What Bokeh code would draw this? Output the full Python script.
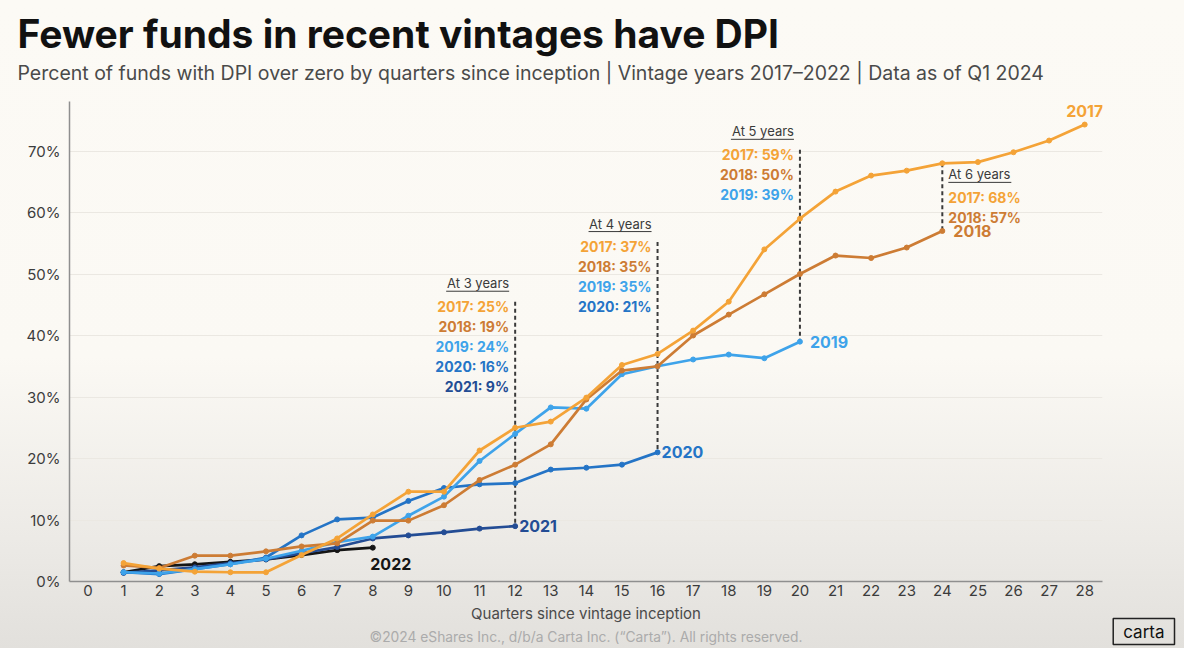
from bokeh.plotting import figure
from bokeh.models import ColumnDataSource, Title, FixedTicker, PrintfTickFormatter
from bokeh.core.properties import value
from bokeh.embed import file_html
from bokeh.resources import INLINE

# % of funds with DPI > 0, by quarters since inception
v2017 = [3.0, 2.1, 1.6, 1.5, 1.5, 4.3, 7.0, 10.9, 14.6, 14.6, 21.3, 25.0, 26.0, 29.9,
         35.2, 37.0, 40.8, 45.5, 54.0, 59.0, 63.4, 66.0, 66.8, 68.0, 68.2, 69.8, 71.7, 74.3]
v2018 = [2.6, 2.2, 4.2, 4.2, 4.9, 5.7, 6.2, 9.9, 9.9, 12.4, 16.5, 19.0, 22.3, 29.6,
         34.3, 35.0, 40.0, 43.4, 46.7, 50.0, 53.0, 52.6, 54.3, 57.0]
v2019 = [1.5, 1.3, 2.0, 2.8, 3.7, 5.0, 6.4, 7.3, 10.7, 13.8, 19.6, 24.0, 28.3, 28.1,
         33.7, 35.0, 36.1, 36.9, 36.3, 39.0]
v2020 = [1.5, 1.2, 2.0, 2.8, 3.9, 7.5, 10.1, 10.4, 13.1, 15.2, 15.8, 16.0, 18.2, 18.5,
         19.0, 21.0]
v2021 = [1.4, 1.8, 2.3, 3.0, 3.6, 4.6, 5.6, 7.0, 7.5, 8.0, 8.6, 9.0]
v2022 = [1.5, 2.5, 2.8, 3.2, 3.6, 4.3, 5.1, 5.5]

vintages = ["2017", "2018", "2019", "2020", "2021", "2022"]
series = dict(zip(vintages, [v2017, v2018, v2019, v2020, v2021, v2022]))
colors = {"2017": "#f4a337", "2018": "#cd7c34", "2019": "#3ea3ea",
          "2020": "#2474c6", "2021": "#234c94", "2022": "#151515"}

x_ticks = list(range(0, 29))
y_ticks = [0, 10, 20, 30, 40, 50, 60, 70]

# annotation blocks: quarter, header, header height (in %), side
blocks = [(12, "At 3 years", 48.5, "right"),
          (16, "At 4 years", 58.2, "right"),
          (20, "At 5 years", 73.2, "right"),
          (24, "At 6 years", 66.2, "left")]

# end-of-line label offsets (px) and alignment
end_offsets = {"2017": (0, -14, "center"), "2018": (11, 0, "left"), "2019": (10, 0, "left"),
               "2020": (4, 0, "left"), "2021": (4, 0, "left"), "2022": (18, 16, "center")}

W, H = 1184, 648
left, right, top, bottom = 69, 82, 101, 67
x0, x1 = -0.52, 28.5
y0, y1 = 0, 78.05
xs = (W - left - right) / (x1 - x0)
ys = (H - top - bottom) / (y1 - y0)

FONT = "Inter"

p = figure(width=W, height=H, x_range=(x0, x1), y_range=(y0, y1), title=None,
           output_backend="svg", toolbar_location=None,
           min_border_left=left, min_border_right=right,
           min_border_top=top, min_border_bottom=bottom)
p.background_fill_alpha = 0
p.border_fill_alpha = 0
p.outline_line_color = None
p.styles = {"background": "linear-gradient(to bottom, #fcfaf5 0%, #fbf9f4 55%, #ebe9e5 85%, #e2e0dc 100%)"}

p.xgrid.visible = False
p.ygrid.grid_line_color = "#ebe8e2"
p.ygrid.grid_line_width = 1

p.xaxis.ticker = FixedTicker(ticks=x_ticks)
p.yaxis.ticker = FixedTicker(ticks=y_ticks)
p.yaxis.formatter = PrintfTickFormatter(format="%d%%")
for ax in (p.xaxis[0], p.yaxis[0]):
    ax.major_tick_line_color = None
    ax.minor_tick_line_color = None
    ax.major_tick_out = 0
    ax.axis_line_color = "#8f8f8f"
    ax.axis_line_width = 1.5
    ax.major_label_text_font = FONT
    ax.major_label_text_font_size = "15px"
    ax.major_label_text_color = "#3c3c3c"
p.xaxis.major_label_standoff = 3
p.yaxis.major_label_standoff = 9
p.xaxis.axis_label = "Quarters since vintage inception"
p.xaxis.axis_label_text_font = FONT
p.xaxis.axis_label_text_font_style = "normal"
p.xaxis.axis_label_text_font_size = "15px"
p.xaxis.axis_label_text_color = "#4a4a4a"
p.xaxis.axis_label_standoff = 5

# dashed markers at 3/4/5/6 years + their texts
for q, head, hy, side in blocks:
    rows = [(v, series[v][q - 1]) for v in vintages if len(series[v]) >= q]
    vals = [r[1] for r in rows]
    p.segment(x0=[q], y0=[max(hy - 3, max(vals))], x1=[q], y1=[min(vals)],
              line_color="#3a3a3a", line_width=2, line_dash="4 3")
    sign = -1 if side == "right" else 1
    align = "right" if side == "right" else "left"
    p.text(x=[q], y=[hy], text=[head], x_offset=sign * 6, text_align=align,
           text_baseline="middle", text_font=value(FONT), text_font_size="13px",
           text_color="#3a3a3a")
    w = len(head) * 6.3
    ux = [q + sign * 6 / xs, q + sign * (6 + w) / xs]
    p.line(x=ux, y=[hy - 8 / ys] * 2, line_color="#3a3a3a", line_width=1)
    src = ColumnDataSource(dict(
        x=[q] * len(rows), y=[hy] * len(rows),
        text=[f"{v}: {round(val)}%" for v, val in rows],
        dy=[23 + 20 * i for i in range(len(rows))],
        color=[colors[v] for v, _ in rows]))
    p.text(x="x", y="y", text="text", source=src, x_offset=sign * 6, y_offset="dy",
           text_align=align, text_baseline="middle", text_font=value(FONT),
           text_font_size="14px", text_font_style="bold", text_color="color")

# the vintage lines
for v in reversed(vintages):
    ys_ = series[v]
    xq = list(range(1, len(ys_) + 1))
    p.line(xq, ys_, line_color=colors[v], line_width=2.7)
    p.scatter(xq, ys_, size=5, color=colors[v])
    dx, dy, al = end_offsets[v]
    p.text(x=[xq[-1]], y=[ys_[-1]], text=[v], x_offset=dx, y_offset=dy,
           text_align=al, text_baseline="middle", text_font=value(FONT),
           text_font_size="16px", text_font_style="bold", text_color=colors[v])

# titles (the first one added sits next to the frame)
p.add_layout(Title(text="Percent of funds with DPI over zero by quarters since inception  |  Vintage years 2017\u20132022  |  Data as of Q1 2024",
                   text_font=FONT, text_font_size="19.5px", text_font_style="normal",
                   text_color="#4a4a4a", offset=-52, standoff=34), "above")
p.add_layout(Title(text="Fewer funds in recent vintages have DPI",
                   text_font=FONT, text_font_size="39px", text_font_style="bold",
                   text_color="#111111", offset=-52, standoff=-30), "above")

# footer: logo box first, copyright pulled up into the same row
p.add_layout(Title(text="carta", text_font=FONT, text_font_size="17px",
                   text_font_style="normal", text_color="#111111", align="right",
                   vertical_align="top", offset=-72, standoff=-14,
                   border_line_color="#222222", border_line_width=1.5, padding=(10, 3)), "below")
p.add_layout(Title(text="\u00a92024 eShares Inc., d/b/a Carta Inc. (\u201cCarta\u201d). All rights reserved.",
                   text_font=FONT, text_font_size="13.8px", text_font_style="normal",
                   text_color="#ababab", align="center", vertical_align="top",
                   standoff=-22), "below")

open("out.html", "w").write(file_html(p, INLINE))
